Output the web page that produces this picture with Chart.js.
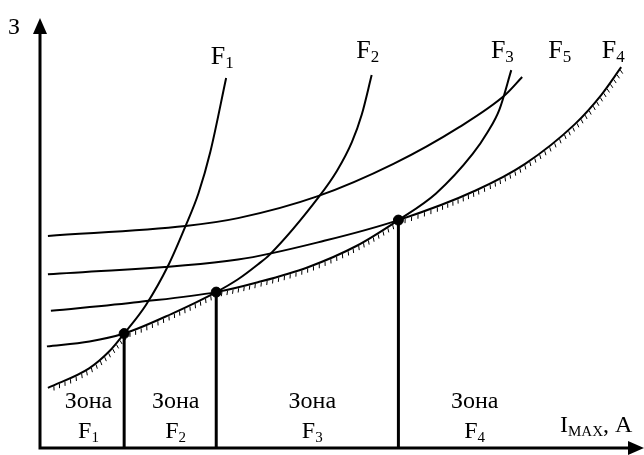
<!DOCTYPE html>
<html>
<head>
<meta charset="utf-8">
<script src="https://cdn.jsdelivr.net/npm/chart.js@4.4.1/dist/chart.umd.min.js"></script>
<style>
  body { margin: 0; background: #fff; }
  #chart { display: block; }
</style>
</head>
<body>
<canvas id="chart" width="644" height="455"></canvas>
<script>
// curves (x = current, y = cost), schematic units
var f1X = [8, 50, 70, 85, 107, 130, 147, 160, 172, 188];
var f1Y = [61, 81, 98, 116, 145, 186, 225, 258, 300, 375];

var f2X = [7, 50, 85, 133, 178, 200, 220, 232, 282, 300, 315, 325, 335];
var f2Y = [103, 108, 116, 136, 158, 171, 186, 196, 255, 281, 310, 338, 378];

var f3X = [11, 100, 178, 220, 270, 320, 362, 400, 437, 452, 464, 476];
var f3Y = [139, 148, 158, 168, 183, 205, 231, 258, 298, 320, 343, 383];

var f4X = [8, 200, 287, 362, 440, 490, 540, 567, 587];
var f4Y = [176, 191, 210, 231, 261, 288, 328, 358, 386];

var f5X = [8, 147, 200, 280, 357, 423, 470, 487];
var f5Y = [215, 225, 233, 255, 288, 325, 358, 376];

// boundaries between zones (intersection points)
var zoneX = [85, 178, 362];
var zoneY = [116, 158, 231];

var curveNames = ['F1', 'F2', 'F3', 'F4', 'F5'];
var zoneNames = ['F1', 'F2', 'F3', 'F4'];
// hatched part of each curve (lower envelope)
var hatchFrom = [8, 85, 178, 362, null];
var hatchTo = [85, 178, 362, 587, null];

function pts(xs, ys) {
  return xs.map(function (x, i) { return { x: x, y: ys[i] }; });
}

var curveX = [f1X, f2X, f3X, f4X, f5X];
var curveY = [f1Y, f2Y, f3Y, f4Y, f5Y];

var datasets = curveNames.map(function (name, i) {
  return {
    label: name,
    data: pts(curveX[i], curveY[i]),
    borderColor: '#000',
    borderWidth: 2,
    pointRadius: 0,
    fill: false,
    clip: false,
    cubicInterpolationMode: 'monotone',
    hatch: hatchFrom[i] !== null ? [hatchFrom[i], hatchTo[i]] : null
  };
});

zoneX.forEach(function (x, i) {
  datasets.push({
    label: 'zone' + i,
    data: [{ x: x, y: 0 }, { x: x, y: zoneY[i] }],
    borderColor: '#000',
    borderWidth: 3,
    pointRadius: 0,
    clip: false
  });
});

datasets.push({
  label: 'points',
  data: pts(zoneX, zoneY),
  showLine: false,
  pointRadius: 5,
  pointBackgroundColor: '#000',
  pointBorderColor: '#000',
  clip: false
});

var serif = '"Liberation Serif", "Times New Roman", serif';

function subText(ctx, main, sub, cx, base, size, subSize, drop) {
  ctx.font = size + 'px ' + serif;
  var w1 = ctx.measureText(main).width;
  ctx.font = subSize + 'px ' + serif;
  var w2 = ctx.measureText(sub).width;
  var x = cx - (w1 + w2) / 2;
  ctx.font = size + 'px ' + serif;
  ctx.fillText(main, x, base);
  ctx.font = subSize + 'px ' + serif;
  ctx.fillText(sub, x + w1, base + drop);
}

// axes with arrows
var axesPlugin = {
  id: 'axes',
  beforeDatasetsDraw: function (chart) {
    var ctx = chart.ctx;
    var x0 = chart.scales.x.getPixelForValue(0);
    var y0 = chart.scales.y.getPixelForValue(0);
    var top = 18, right = 644;
    ctx.save();
    ctx.strokeStyle = '#000';
    ctx.fillStyle = '#000';
    ctx.lineWidth = 3;
    ctx.beginPath();
    ctx.moveTo(x0, y0 + 1.5);
    ctx.lineTo(x0, top + 10);
    ctx.moveTo(x0 - 1.5, y0);
    ctx.lineTo(right - 10, y0);
    ctx.stroke();
    ctx.beginPath();
    ctx.moveTo(x0, top);
    ctx.lineTo(x0 - 7, top + 16);
    ctx.lineTo(x0 + 7, top + 16);
    ctx.closePath();
    ctx.fill();
    ctx.beginPath();
    ctx.moveTo(right, y0);
    ctx.lineTo(right - 16, y0 - 7);
    ctx.lineTo(right - 16, y0 + 7);
    ctx.closePath();
    ctx.fill();
    ctx.restore();
  }
};

// short ticks under the lower envelope
var hatchPlugin = {
  id: 'hatch',
  afterDatasetsDraw: function (chart) {
    var ctx = chart.ctx;
    var xs = chart.scales.x;
    ctx.save();
    ctx.strokeStyle = '#000';
    ctx.lineWidth = 1;
    ctx.beginPath();
    chart.data.datasets.forEach(function (ds, i) {
      if (!ds.hatch) return;
      var p = chart.getDatasetMeta(i).data;
      var xa = xs.getPixelForValue(ds.hatch[0]);
      var xb = xs.getPixelForValue(ds.hatch[1]);
      var acc = 0, last = null;
      for (var k = 0; k < p.length - 1; k++) {
        var a = p[k], b = p[k + 1];
        var c1x = a.cp2x !== undefined ? a.cp2x : a.x, c1y = a.cp2y !== undefined ? a.cp2y : a.y;
        var c2x = b.cp1x !== undefined ? b.cp1x : b.x, c2y = b.cp1y !== undefined ? b.cp1y : b.y;
        for (var s = 0; s <= 60; s++) {
          var t = s / 60, u = 1 - t;
          var px = u * u * u * a.x + 3 * u * u * t * c1x + 3 * u * t * t * c2x + t * t * t * b.x;
          var py = u * u * u * a.y + 3 * u * u * t * c1y + 3 * u * t * t * c2y + t * t * t * b.y;
          if (px < xa || px > xb) { last = null; continue; }
          if (last) acc += Math.hypot(px - last[0], py - last[1]);
          last = [px, py];
          if (acc < 5.5) continue;
          acc = 0;
          var dx = 3 * u * u * (c1x - a.x) + 6 * u * t * (c2x - c1x) + 3 * t * t * (b.x - c2x);
          var dy = 3 * u * u * (c1y - a.y) + 6 * u * t * (c2y - c1y) + 3 * t * t * (b.y - c2y);
          var len = Math.hypot(dx, dy) || 1;
          var tx = dx / len, ty = dy / len;
          var nx = -ty, ny = tx;
          ctx.moveTo(px + nx * 1, py + ny * 1);
          ctx.lineTo(px + nx * 5 - tx * 1.5, py + ny * 5 - ty * 1.5);
        }
      }
    });
    ctx.stroke();
    ctx.restore();
  }
};

// texts
var labelPlugin = {
  id: 'labels',
  afterDraw: function (chart) {
    var ctx = chart.ctx;
    var xs = chart.scales.x, ys = chart.scales.y;
    ctx.save();
    ctx.fillStyle = '#000';
    ctx.textAlign = 'left';
    ctx.textBaseline = 'alphabetic';

    ctx.font = '24px ' + serif;
    ctx.fillText('З', 8, 34);

    var topX = [184, 331, 467, 579, 525];
    var topY = [389, 395, 395, 395, 395];
    curveNames.forEach(function (n, i) {
      subText(ctx, n[0], n.slice(1), xs.getPixelForValue(topX[i]), ys.getPixelForValue(topY[i]), 26, 17, 4);
    });

    var zoneCx = [49, 137, 275, 439];
    zoneNames.forEach(function (n, i) {
      var cx = xs.getPixelForValue(zoneCx[i]);
      ctx.font = '24px ' + serif;
      ctx.textAlign = 'center';
      ctx.fillText('Зона', cx, ys.getPixelForValue(41));
      ctx.textAlign = 'left';
      subText(ctx, n[0], n.slice(1), cx, ys.getPixelForValue(10), 24, 15, 4);
    });

    var x = 560, base = 432;
    ctx.font = '24px ' + serif;
    ctx.fillText('I', x, base);
    x += ctx.measureText('I').width;
    ctx.font = '15px ' + serif;
    ctx.fillText('MAX', x, base + 4);
    x += ctx.measureText('MAX').width;
    ctx.font = '24px ' + serif;
    ctx.fillText(', A', x, base);
    ctx.restore();
  }
};

new Chart(document.getElementById('chart').getContext('2d'), {
  type: 'line',
  data: { datasets: datasets },
  options: {
    responsive: false,
    animation: false,
    layout: { padding: { left: 40, right: 0, top: 0, bottom: 7 } },
    scales: {
      x: { type: 'linear', min: 0, max: 604, display: false },
      y: { type: 'linear', min: 0, max: 448, display: false }
    },
    plugins: {
      legend: { display: false },
      tooltip: { enabled: false }
    }
  },
  plugins: [axesPlugin, hatchPlugin, labelPlugin]
});
</script>
</body>
</html>
